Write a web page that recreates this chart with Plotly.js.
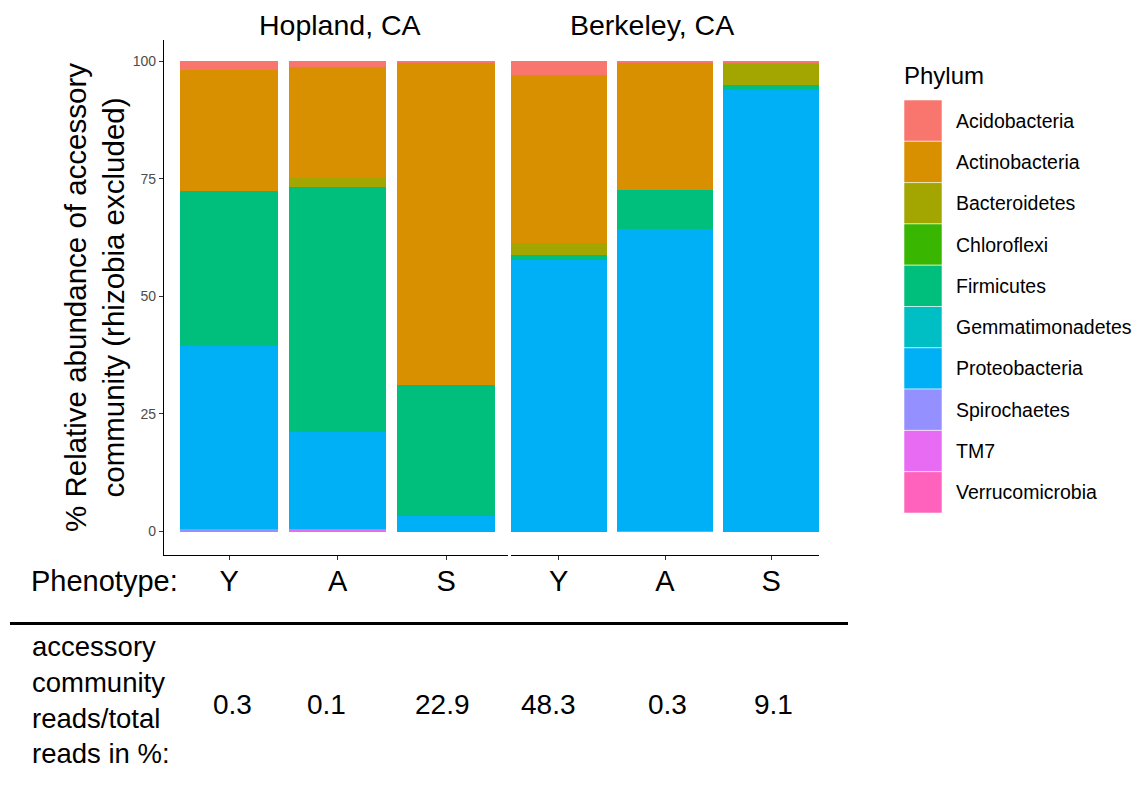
<!DOCTYPE html>
<html>
<head>
<meta charset="utf-8">
<script src="https://cdn.plot.ly/plotly-3.0.1.min.js"></script>
<style>html,body{margin:0;padding:0;background:#fff;}#chart{width:1136px;height:791px;}</style>
</head>
<body>
<div id="chart"></div>
<script>
// ---- data ----
const sites = ["Hopland, CA", "Berkeley, CA"];
const phenotypes = ["Y", "A", "S"];
const phyla = ["Acidobacteria", "Actinobacteria", "Bacteroidetes", "Chloroflexi", "Firmicutes",
               "Gemmatimonadetes", "Proteobacteria", "Spirochaetes", "TM7", "Verrucomicrobia"];
const phylumColors = ["#F8766D", "#D89000", "#A3A500", "#39B600", "#00BF7D",
                      "#00BFC4", "#00B0F6", "#9590FF", "#E76BF3", "#FF62BC"];
// values per phylum: Hopland Y, A, S, Berkeley Y, A, S (% relative abundance)
const acidobacteria    = [1.8, 1.2, 0.3, 2.8, 0.3, 0.3];
const actinobacteria   = [25.8, 23.6, 68.5, 35.9, 27.1, 0.3];
const bacteroidetes    = [0.0, 2.0, 0.0, 2.5, 0.0, 4.3];
const chloroflexi      = [0.0, 0.0, 0.0, 0.0, 0.0, 0.0];
const firmicutes       = [32.9, 52.0, 27.9, 1.1, 8.3, 1.1];
const gemmatimonadetes = [0.0, 0.0, 0.0, 0.0, 0.0, 0.0];
const proteobacteria   = [38.9, 20.6, 3.3, 57.7, 64.1, 94.0];
const spirochaetes     = [0.6, 0.0, 0.0, 0.0, 0.0, 0.0];
const tm7              = [0.0, 0.6, 0.0, 0.0, 0.2, 0.0];
const verrucomicrobia  = [0.0, 0.0, 0.0, 0.0, 0.0, 0.0];
const readsPct = ["0.3", "0.1", "22.9", "48.3", "0.3", "9.1"];
const yTicks = [0, 25, 50, 75, 100];

const phylumValues = [acidobacteria, actinobacteria, bacteroidetes, chloroflexi, firmicutes,
                      gemmatimonadetes, proteobacteria, spirochaetes, tm7, verrucomicrobia];

// ---- layout helpers ----
const W = 1136, H = 791;
const FONT = "Liberation Sans, Arial, Helvetica, sans-serif";
const px = v => v / W;
const py = v => 1 - v / H;

const traces = [];
for (let i = phyla.length - 1; i >= 0; i--) {
  const vals = phylumValues[i];
  ["x", "x2"].forEach((ax, s) => {
    traces.push({
      type: "bar",
      name: phyla[i],
      x: phenotypes,
      y: vals.slice(s * 3, s * 3 + 3),
      xaxis: ax, yaxis: "y",
      marker: {color: phylumColors[i], line: {width: 0}},
      showlegend: false,
      hoverinfo: "name+y"
    });
  });
}

const xCommon = {
  type: "category",
  showline: true, linecolor: "#000", linewidth: 1.2,
  ticks: "outside", ticklen: 4, tickcolor: "#333", tickwidth: 1,
  tickfont: {family: FONT, size: 29, color: "#000"},
  ticklabelstandoff: -4,
  showgrid: false, zeroline: false, anchor: "y", fixedrange: true
};

const annotations = [];
// strip titles
annotations.push({text: sites[0], xref: "paper", yref: "paper", x: px(339.5), y: py(25),
  showarrow: false, xanchor: "center", yanchor: "middle", font: {family: FONT, size: 28.5, color: "#000"}});
annotations.push({text: sites[1], xref: "paper", yref: "paper", x: px(652), y: py(25),
  showarrow: false, xanchor: "center", yanchor: "middle", font: {family: FONT, size: 28.5, color: "#000"}});
// y-axis title
annotations.push({text: "% Relative abundance of accessory<br>community (rhizobia excluded)",
  xref: "paper", yref: "paper", x: px(94), y: py(298), textangle: -90,
  showarrow: false, xanchor: "center", yanchor: "middle", font: {family: FONT, size: 29.5, color: "#000"}});
// Phenotype label
annotations.push({text: "Phenotype:", xref: "paper", yref: "paper", x: px(29), y: py(581),
  showarrow: false, xanchor: "left", yanchor: "middle", font: {family: FONT, size: 29, color: "#000"}});
// bottom left text
annotations.push({text: "accessory<br>community<br>reads/total<br>reads in %:", align: "left",
  xref: "paper", yref: "paper", x: px(30), y: py(700),
  showarrow: false, xanchor: "left", yanchor: "middle", font: {family: FONT, size: 27.5, color: "#000"}});
// reads values
const valueShift = [3.5, -11.5, -3.5, -10, 2.5, 2.5];
readsPct.forEach((v, i) => {
  annotations.push({text: v, xref: i < 3 ? "x" : "x2", yref: "paper",
    x: phenotypes[i % 3], y: py(704), xshift: valueShift[i],
    showarrow: false, xanchor: "center", yanchor: "middle", font: {family: FONT, size: 28, color: "#000"}});
});
// legend (manual)
annotations.push({text: "Phylum", xref: "paper", yref: "paper", x: px(902), y: py(75),
  showarrow: false, xanchor: "left", yanchor: "middle", font: {family: FONT, size: 24, color: "#000"}});
const shapes = [];
const keyTop = 100, keyH = 41.3;
phyla.forEach((p, i) => {
  const y0 = keyTop + i * keyH, y1 = y0 + keyH;
  shapes.push({type: "rect", xref: "paper", yref: "paper", x0: px(904), x1: px(942), y0: py(y1), y1: py(y0),
    fillcolor: phylumColors[i], line: {color: "rgba(255,255,255,0.7)", width: 0.8}});
  annotations.push({text: p, xref: "paper", yref: "paper", x: px(954), y: py((y0 + y1) / 2),
    showarrow: false, xanchor: "left", yanchor: "middle", font: {family: FONT, size: 19.5, color: "#000"}});
});
// horizontal rule
shapes.push({type: "line", xref: "paper", yref: "paper", x0: px(10), x1: px(848), y0: py(623.5), y1: py(623.5),
  line: {color: "#000", width: 3}});

const layout = {
  width: W, height: H,
  margin: {l: 0, r: 0, t: 0, b: 0, pad: 0},
  paper_bgcolor: "#fff", plot_bgcolor: "#fff",
  barmode: "stack", bargap: 0.1,
  showlegend: false,
  font: {family: FONT, color: "#000"},
  xaxis: Object.assign({}, xCommon, {domain: [px(164), px(508)], range: [-0.6, 2.571]}),
  xaxis2: Object.assign({}, xCommon, {domain: [px(511), px(819)], range: [-0.45, 2.45]}),
  yaxis: {
    domain: [py(555), py(40)], range: [-5, 104.57],
    tickmode: "array", tickvals: yTicks, ticktext: yTicks.map(String),
    showline: true, linecolor: "#000", linewidth: 1.2,
    ticks: "outside", ticklen: 4, tickcolor: "#333",
    tickfont: {family: FONT, size: 14, color: "#4D4D4D"},
    showgrid: false, zeroline: false, anchor: "x", fixedrange: true
  },
  annotations: annotations,
  shapes: shapes
};

Plotly.newPlot("chart", traces, layout, {displayModeBar: false, staticPlot: true});
</script>
</body>
</html>
